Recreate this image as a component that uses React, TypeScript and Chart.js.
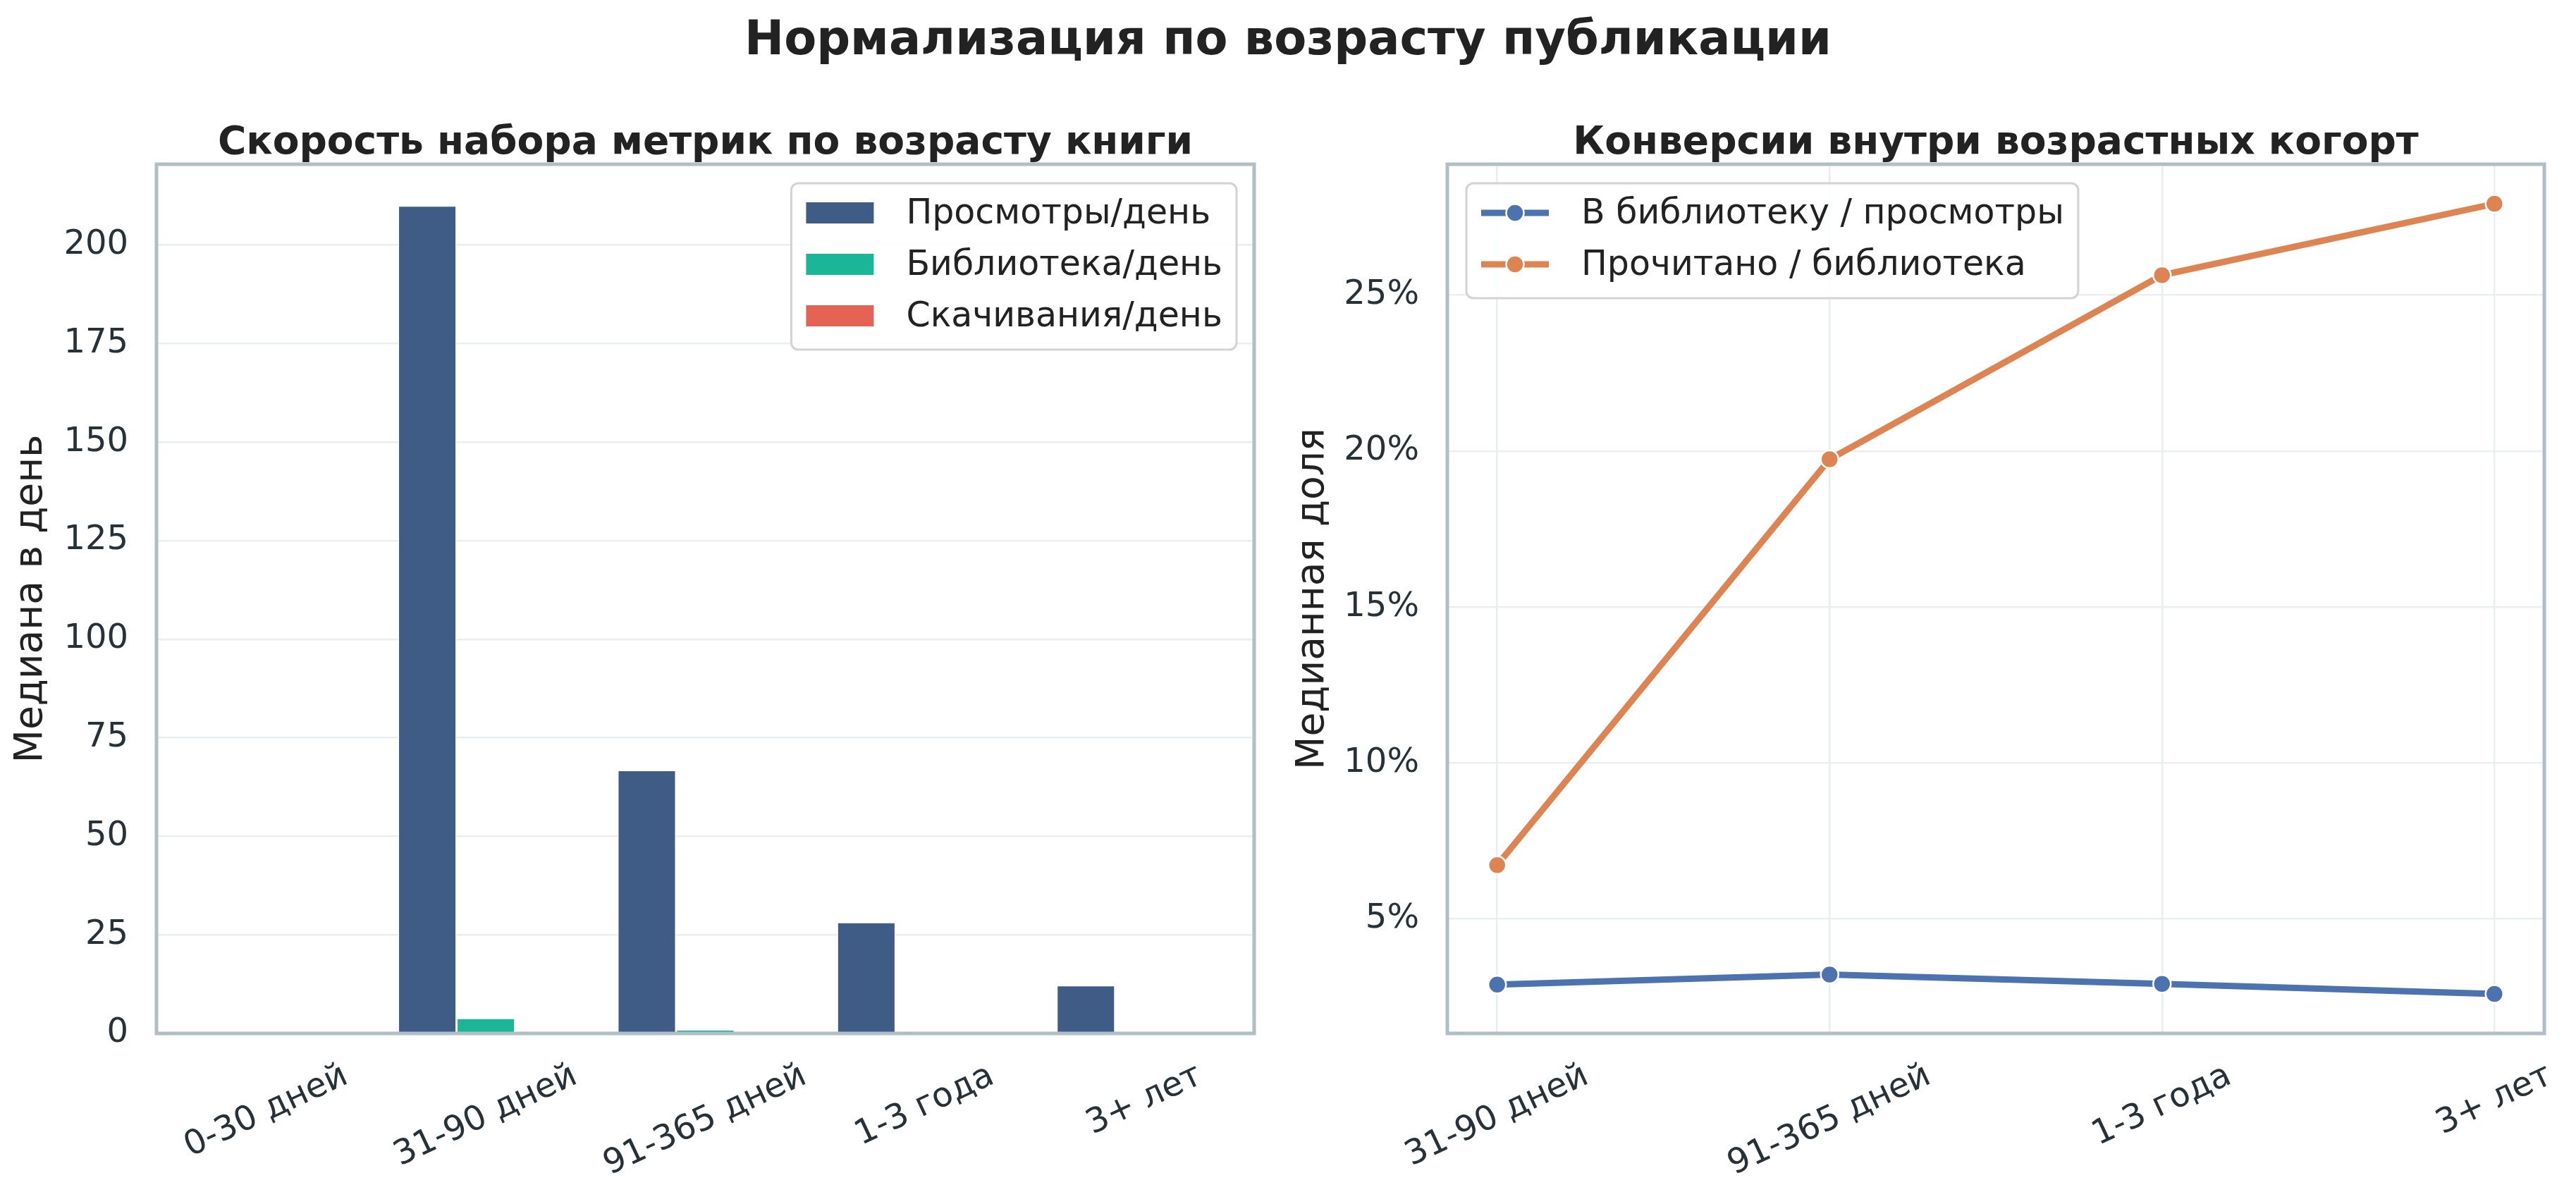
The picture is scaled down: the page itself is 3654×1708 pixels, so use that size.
import { useEffect, useRef } from 'react'
import { Chart, registerables } from 'chart.js'

Chart.register(...registerables)

const W = 3654
const H = 1708
const FONT = '"DejaVu Sans", sans-serif'

// left panel: median per-day rates by book age
const ageGroups = ['0-30 дней', '31-90 дней', '91-365 дней', '1-3 года', '3+ лет']
const viewsPerDay = [null, 210, 66.8, 28.2, 12.2]
const libraryPerDay = [null, 3.9, 1.0, 0, 0]
const downloadsPerDay = [null, 0, 0, 0, 0]
const rateTicks = [0, 25, 50, 75, 100, 125, 150, 175, 200]

// right panel: conversions inside age cohorts
const cohortGroups = ['31-90 дней', '91-365 дней', '1-3 года', '3+ лет']
const libraryToViews = [0.029, 0.0322, 0.0292, 0.026]
const readToLibrary = [0.0673, 0.1974, 0.2564, 0.2793]
const shareTicks = [0.05, 0.1, 0.15, 0.2, 0.25]

const TEXT = '#222222'
const TICK = '#263238'
const FRAME = '#B0BEC5'
const GRID = '#EBEEF0'
const TICK_SIZE = 48

const TOP = 233
const BOTTOM = 1466
const LEFT_AREA = { left: 222, right: 1779 }
const RIGHT_AREA = { left: 2053, right: 3609 }

type LegendItem = { label: string, color: string, kind: 'bar' | 'line' }

function drawLegend(ctx: CanvasRenderingContext2D, items: LegendItem[], x: number, y: number, alignRight: boolean) {
  ctx.save()
  ctx.font = `49px ${FONT}`
  const padL = 21, handle = 96, gap = 46, padR = 20
  const rowTop = 42, rowGap = 73, rowBottom = 48
  const maxW = Math.max(...items.map(it => ctx.measureText(it.label).width))
  const bw = padL + handle + gap + maxW + padR
  const bh = rowTop + rowGap * (items.length - 1) + rowBottom
  const bx = alignRight ? x - bw : x
  ctx.beginPath()
  ctx.roundRect(bx, y, bw, bh, 10)
  ctx.fillStyle = 'rgba(255,255,255,0.85)'
  ctx.fill()
  ctx.lineWidth = 3
  ctx.strokeStyle = '#D3D3D3'
  ctx.stroke()
  items.forEach((it, i) => {
    const cy = y + rowTop + i * rowGap
    const hx = bx + padL
    if (it.kind === 'bar') {
      ctx.fillStyle = it.color
      ctx.fillRect(hx, cy - 15, handle, 30)
    } else {
      ctx.strokeStyle = it.color
      ctx.lineWidth = 9
      ctx.beginPath()
      ctx.moveTo(hx, cy)
      ctx.lineTo(hx + handle, cy)
      ctx.stroke()
      ctx.beginPath()
      ctx.arc(hx + handle / 2, cy, 12.5, 0, Math.PI * 2)
      ctx.fillStyle = it.color
      ctx.fill()
      ctx.lineWidth = 2.5
      ctx.strokeStyle = '#ffffff'
      ctx.stroke()
    }
    ctx.fillStyle = TEXT
    ctx.textAlign = 'left'
    ctx.textBaseline = 'middle'
    ctx.fillText(it.label, hx + handle + gap, cy + 2)
  })
  ctx.restore()
}

function decorPlugin(title: string, labels: string[], legend: LegendItem[], legendRight: boolean, suptitle?: string) {
  return {
    id: 'decor',
    afterDraw(chart: Chart) {
      const { ctx, chartArea: a } = chart
      const xs = chart.scales.x
      ctx.save()
      // frame
      ctx.strokeStyle = FRAME
      ctx.lineWidth = 5
      ctx.strokeRect(a.left, a.top, a.right - a.left, a.bottom - a.top)
      // rotated x labels, centred under each tick
      const ang = (25 * Math.PI) / 180
      ctx.font = `${TICK_SIZE}px ${FONT}`
      ctx.fillStyle = TICK
      labels.forEach((t, i) => {
        const px = xs.getPixelForValue(i)
        const w = ctx.measureText(t).width
        const h = TICK_SIZE * 1.16
        const bh = w * Math.sin(ang) + h * Math.cos(ang)
        ctx.save()
        ctx.translate(px, a.bottom + 33 + bh / 2)
        ctx.rotate(-ang)
        ctx.textAlign = 'center'
        ctx.textBaseline = 'middle'
        ctx.fillText(t, 0, 0)
        ctx.restore()
      })
      // panel title
      ctx.font = `bold 55px ${FONT}`
      ctx.fillStyle = TEXT
      ctx.textAlign = 'center'
      ctx.textBaseline = 'alphabetic'
      ctx.fillText(title, (a.left + a.right) / 2, 218)
      if (suptitle) {
        ctx.font = `bold 67px ${FONT}`
        ctx.fillText(suptitle, W / 2, 77)
      }
      ctx.restore()
      drawLegend(ctx, legend, legendRight ? a.right - 25 : a.left + 27, a.top + 27, legendRight)
    }
  }
}

export default function App() {
  const leftRef = useRef<HTMLCanvasElement>(null)
  const rightRef = useRef<HTMLCanvasElement>(null)

  useEffect(() => {
    if (!leftRef.current || !rightRef.current) return
    Chart.defaults.font.family = FONT

    const barColors = ['#3F5C87', '#1BB697', '#E56355']
    const barSeries = [
      { label: 'Просмотры/день', data: viewsPerDay },
      { label: 'Библиотека/день', data: libraryPerDay },
      { label: 'Скачивания/день', data: downloadsPerDay },
    ]
    const rateMax = Math.max(...viewsPerDay.filter((v): v is number => v !== null)) * 1.05

    const left = new Chart(leftRef.current, {
      type: 'bar',
      data: {
        labels: ageGroups,
        datasets: barSeries.map((s, i) => ({
          label: s.label,
          data: s.data,
          backgroundColor: barColors[i],
          borderColor: '#ffffff',
          borderWidth: 1.5,
          categoryPercentage: 0.8,
          barPercentage: 1,
        })),
      },
      options: {
        responsive: false,
        animation: false,
        events: [],
        layout: { padding: { left: 0, right: W - LEFT_AREA.right, top: TOP, bottom: 0 } },
        plugins: { legend: { display: false }, tooltip: { enabled: false } },
        scales: {
          x: {
            grid: { display: false },
            border: { display: false },
            ticks: { display: false },
            afterFit: (s: any) => { s.height = H - BOTTOM },
          },
          y: {
            min: 0,
            max: rateMax,
            afterBuildTicks: (s: any) => { s.ticks = rateTicks.map(v => ({ value: v })) },
            afterFit: (s: any) => { s.width = LEFT_AREA.left },
            grid: { color: GRID, lineWidth: 2.5, drawTicks: false },
            border: { display: false },
            ticks: { color: TICK, font: { size: TICK_SIZE }, padding: 40 },
            title: { display: true, text: 'Медиана в день', color: TEXT, font: { size: 55 }, padding: { top: 12, bottom: 0 } },
          },
        },
      },
      plugins: [decorPlugin(
        'Скорость набора метрик по возрасту книги',
        ageGroups,
        barSeries.map((s, i) => ({ label: s.label, color: barColors[i], kind: 'bar' as const })),
        true,
        'Нормализация по возрасту публикации',
      )],
    })

    const lineColors = ['#4C72B0', '#DD8452']
    const lineSeries = [
      { label: 'В библиотеку / просмотры', data: libraryToViews },
      { label: 'Прочитано / библиотека', data: readToLibrary },
    ]
    const allShares = [...libraryToViews, ...readToLibrary]
    const lo = Math.min(...allShares), hi = Math.max(...allShares)
    const pad = (hi - lo) * 0.05
    const xPad = (cohortGroups.length - 1) * 0.05

    const right = new Chart(rightRef.current, {
      type: 'line',
      data: {
        datasets: lineSeries.map((s, i) => ({
          label: s.label,
          data: s.data.map((v, j) => ({ x: j, y: v })),
          borderColor: lineColors[i],
          backgroundColor: lineColors[i],
          borderWidth: 9,
          pointRadius: 12.5,
          pointBackgroundColor: lineColors[i],
          pointBorderColor: '#ffffff',
          pointBorderWidth: 2.5,
          tension: 0,
        })),
      },
      options: {
        responsive: false,
        animation: false,
        events: [],
        layout: { padding: { left: 1830, right: W - RIGHT_AREA.right, top: TOP, bottom: 0 } },
        plugins: { legend: { display: false }, tooltip: { enabled: false } },
        scales: {
          x: {
            type: 'linear',
            min: -xPad,
            max: cohortGroups.length - 1 + xPad,
            afterBuildTicks: (s: any) => { s.ticks = cohortGroups.map((_, j) => ({ value: j })) },
            afterFit: (s: any) => { s.height = H - BOTTOM },
            grid: { color: GRID, lineWidth: 2.5, drawTicks: false },
            border: { display: false },
            ticks: { display: false },
          },
          y: {
            min: lo - pad,
            max: hi + pad,
            afterBuildTicks: (s: any) => { s.ticks = shareTicks.map(v => ({ value: v })) },
            afterFit: (s: any) => { s.width = RIGHT_AREA.left - 1830 },
            grid: { color: GRID, lineWidth: 2.5, drawTicks: false },
            border: { display: false },
            ticks: {
              color: TICK,
              font: { size: TICK_SIZE },
              padding: 40,
              callback: (v: any) => `${Math.round(Number(v) * 100)}%`,
            },
            title: { display: true, text: 'Медианная доля', color: TEXT, font: { size: 55 }, padding: { top: 0, bottom: 0 } },
          },
        },
      },
      plugins: [decorPlugin(
        'Конверсии внутри возрастных когорт',
        cohortGroups,
        lineSeries.map((s, i) => ({ label: s.label, color: lineColors[i], kind: 'line' as const })),
        false,
      )],
    })

    return () => {
      left.destroy()
      right.destroy()
    }
  }, [])

  const canvasStyle = { position: 'absolute' as const, left: 0, top: 0, width: W, height: H }
  return (
    <div style={{ position: 'fixed', left: 0, top: 0, width: W, height: H, background: '#ffffff' }}>
      <canvas ref={leftRef} width={W} height={H} style={canvasStyle} />
      <canvas ref={rightRef} width={W} height={H} style={canvasStyle} />
    </div>
  )
}
